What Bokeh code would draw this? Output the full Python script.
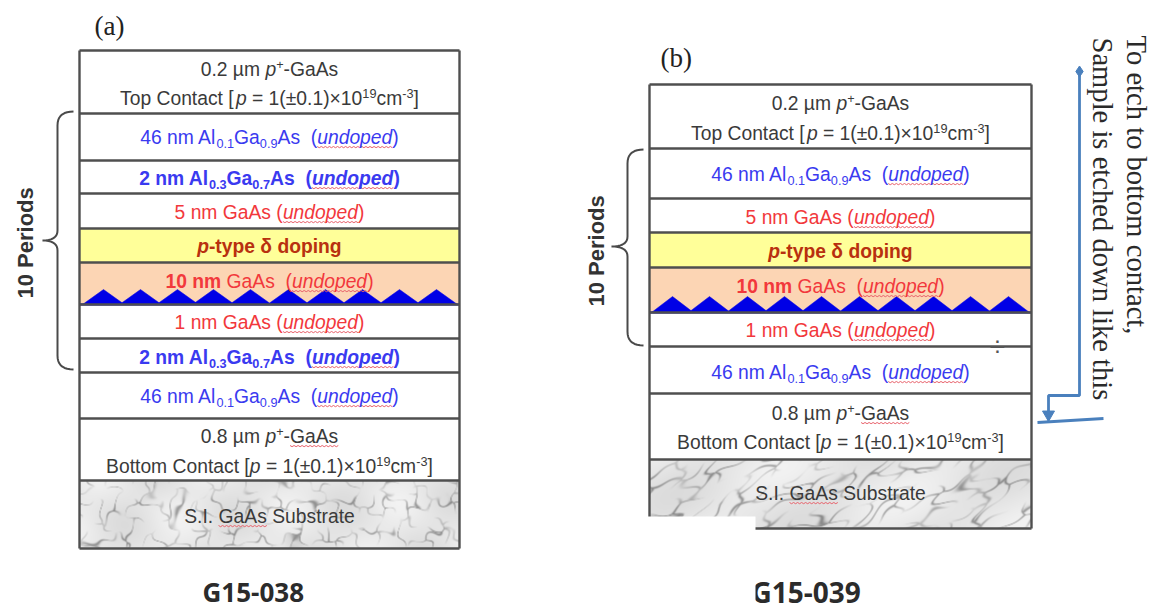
import numpy as np
from bokeh.plotting import figure
from bokeh.models import Range1d, ColumnDataSource
from bokeh.embed import file_html
from bokeh.resources import INLINE
from bokeh.core.properties import value

BLACK = "#3a3a3a"; BLUE = "#3a3af0"; RED = "#f2383c"; DRED = "#b8300f"
YELLOW = "#ffff99"; PEACH = "#fcd5b4"; ARROW = "#4a80bd"

# --- stack (a) -------------------------------------------------
a_left, a_right = 79, 459
a_edges = [50, 113, 160, 193, 228, 262, 304, 338, 372, 418, 480, 548]
a_fills = ["white", "white", "white", "white", YELLOW, PEACH, "white", "white", "white", "white", None]
a_peaks = [103, 140, 177, 213, 250, 288, 325, 362, 399, 436]
a_base, a_peak_top = 304, 289
a_baselines = [75, 104, 143, 184, 218, 252, 287, 328, 363, 402, 442, 472, 522]
# --- stack (b) -------------------------------------------------
b_left, b_right = 649, 1031
b_edges = [84, 148, 198, 232, 267, 312, 346, 393, 459, 528]
b_fills = ["white", "white", "white", YELLOW, PEACH, "white", "white", "white", None]
b_peaks = [672, 709, 747, 784, 821, 859, 896, 933, 970, 1008]
b_base, b_peak_top = 312, 296
b_baselines = [109, 139, 180, 223, 257, 292, 336, 378, 419, 448, 499]

def top_l1(): return [("0.2 µm ", "r"), ("p", "i"), ("+", "sup"), ("-GaAs", "r")]
def top_l2(): return [("Top Contact [", "r"), ("p", "i"), (" = 1(±0.1)×10", "r"), ("19", "sup"), ("cm", "r"), ("-3", "sup"), ("]", "r")]
def bot_l1(): return [("0.8 µm ", "r"), ("p", "i"), ("+", "sup"), ("-", "r"), ("GaAs", "ru")]
def bot_l2(): return [("Bottom Contact [", "r"), ("p", "i"), (" = 1(±0.1)×10", "r"), ("19", "sup"), ("cm", "r"), ("-3", "sup"), ("]", "r")]
def al46(): return [("46 nm Al", "r"), ("0.1", "sub"), ("Ga", "r"), ("0.9", "sub"), ("As", "r"), ("  (", "r"), ("undoped", "iu"), (")", "r")]
def al2(): return [("2 nm Al", "b"), ("0.3", "subb"), ("Ga", "b"), ("0.7", "subb"), ("As", "b"), ("  (", "b"), ("undoped", "biu"), (")", "b")]
def g5(): return [("5 nm GaAs (", "r"), ("undoped", "iu"), (")", "r")]
def g1(): return [("1 nm GaAs (", "r"), ("undoped", "iu"), (")", "r")]
def g10(): return [("10 nm", "b"), (" GaAs", "r"), ("  (", "r"), ("undoped", "iu"), (")", "r")]
def delta(): return [("p", "bi"), ("-type δ doping", "b")]
def subs(): return [("S.I. ", "r"), ("GaAs", "ru"), (" Substrate", "r")]

a_lines = [top_l1(), top_l2(), al46(), al2(), g5(), delta(), g10(), g1(), al2(), al46(), bot_l1(), bot_l2(), subs()]
a_colors = [BLACK, BLACK, BLUE, BLUE, RED, DRED, RED, RED, BLUE, BLUE, BLACK, BLACK, BLACK]
b_lines = [top_l1(), top_l2(), al46(), g5(), delta(), g10(), g1(), al46(), bot_l1(), bot_l2(), subs()]
b_colors = [BLACK, BLACK, BLUE, RED, DRED, RED, RED, BLUE, BLACK, BLACK, BLACK]

REG = {" ":278,".":278,",":278,"-":333,"(":333,")":333,"[":278,"]":278,"=":584,"±":549,"×":584,"µ":576,"+":584,
       "a":556,"b":556,"c":500,"d":556,"e":556,"f":278,"g":556,"h":556,"i":222,"j":222,"k":500,"l":222,"m":833,
       "n":556,"o":556,"p":556,"q":556,"r":333,"s":500,"t":278,"u":556,"v":500,"w":722,"x":500,"y":500,"z":500,
       "A":667,"B":667,"C":722,"G":778,"I":278,"S":667,"T":611,"δ":494}
BOLD = dict(REG); BOLD.update({"b":611,"c":556,"d":611,"f":333,"g":611,"h":611,"i":278,"l":278,"m":889,"n":611,"o":611,
       "p":611,"r":389,"s":556,"t":333,"u":611,"y":556,"A":722,"δ":611})

FS = 19.3
SHIFT = 0.32   # bokeh's svg text sits this many ems under the requested baseline

def layout(lines, colors, baselines, cx, src, squig):
    for runs, col, base in zip(lines, colors, baselines):
        items = []
        for txt, st in runs:
            bold = st.startswith("b") or st == "subb"
            small = st in ("sub", "sup", "subb")
            size = FS * (0.66 if small else 1.0)
            w = sum((BOLD if bold else REG).get(c, 556) for c in txt) / 1000 * size
            items.append((txt, st, bold, size, w))
        x = cx - sum(i[4] for i in items) / 2
        for txt, st, bold, size, w in items:
            dy = 4 if st in ("sub", "subb") else (-7 if st == "sup" else 0)
            italic = "i" in st and st not in ("sub", "subb", "sup")
            fs = ("bold italic" if bold and italic else "bold" if bold else "italic" if italic else "normal")
            tbl = BOLD if bold else REG
            lead = len(txt) - len(txt.lstrip(" "))
            src["x"].append(x + lead * tbl[" "] / 1000 * size)
            src["y"].append(base + dy - SHIFT * size)
            src["t"].append(txt.strip(" "))
            src["c"].append(col); src["f"].append(fs); src["s"].append(f"{size:.1f}px")
            if st.endswith("u"):
                n = max(2, int(w / 2))
                xs = np.linspace(x, x + w, n + 1)
                ys = base + 3 + np.where(np.arange(n + 1) % 2 == 0, 0, 1.2)
                squig["x"].append(list(xs)); squig["y"].append(list(ys))
            x += w

def brace(xr, xs, xt, top, mid, bot):
    def q(p0, p1, p2, n=10):
        t = np.linspace(0, 1, n)
        return ((1-t)**2*p0[0] + 2*t*(1-t)*p1[0] + t**2*p2[0], (1-t)**2*p0[1] + 2*t*(1-t)*p1[1] + t**2*p2[1])
    parts = [q((xr, top), (xs, top), (xs, top + 14)),
             q((xs, mid - 10), (xs, mid), (xt, mid)),
             q((xt, mid), (xs, mid), (xs, mid + 10)),
             q((xs, bot - 14), (xs, bot), (xr, bot))]
    return np.concatenate([c[0] for c in parts]), np.concatenate([c[1] for c in parts])

def marble(w, h, pitch, stretch, ang, phase):
    # decorative cracked-stone texture of the substrate layer (no chart data)
    yy, xx = np.mgrid[0:h, 0:w].astype(float)
    u = (xx * np.cos(ang) + yy * np.sin(ang)) * stretch
    v = -xx * np.sin(ang) + yy * np.cos(ang)
    u0, v0 = u.copy(), v.copy()
    u = u + 5 * np.sin(v0 / 7 + phase) + 2.5 * np.sin(v0 / 2.7)
    v = v + 5 * np.sin(u0 / 9 - phase) + 2.5 * np.sin(u0 / 3.1)
    gi = np.arange(-3, int(max(w, h) * 1.6 / pitch) + 3)
    gj = np.arange(-int(max(w, h) * 1.2 / pitch) - 3, int(max(w, h) * 1.2 / pitch) + 3)
    I, J = np.meshgrid(gi, gj)
    fx = np.sin(I * 12.9898 + J * 78.233 + phase) * 43758.5453
    fy = np.sin(I * 39.346 + J * 11.135 + phase) * 24634.6345
    px = (I + fx - np.floor(fx)) * pitch
    py = (J + fy - np.floor(fy)) * pitch
    px, py = px.ravel(), py.ravel()
    d = np.sqrt((u[..., None] - px) ** 2 + (v[..., None] - py) ** 2)
    d.sort(axis=-1)
    edge = d[..., 1] - d[..., 0]
    mod = np.clip(0.45 + 0.9 * np.sin(u0 / 9 + phase) * np.sin(v0 / 6 + 2 * phase), 0, 1)
    vein = np.exp(-(edge / 1.4) ** 2) * mod
    blot = np.sin(u0 / 31 + v0 / 17 + phase) + 0.6 * np.sin(u0 / 11 - v0 / 23)
    g = 231 + 7 * blot - 85 * vein
    g = np.clip(g, 100, 250).astype(np.uint32)
    return (255 << 24) | (g << 16) | (g << 8) | g

p = figure(width=1152, height=609, output_backend="svg", toolbar_location=None,
           x_range=Range1d(0, 1152), y_range=Range1d(609, 0), min_border=0, outline_line_color=None)
p.axis.visible = False
p.grid.visible = False
p.background_fill_color = "white"
p.border_fill_color = "white"

LINE = "#4f4f4f"
for left, right, edges, fills, peaks, base, ptop, tex in [
        (a_left, a_right, a_edges, a_fills, a_peaks, a_base, a_peak_top, (20, 1.0, -0.6, 0.7)),
        (b_left, b_right, b_edges, b_fills, b_peaks, b_base, b_peak_top, (15, 0.45, -0.5, 2.1))]:
    tops = edges[:-1]; bots = edges[1:]
    colors = [c if c else "white" for c in fills]
    p.quad(left=left, right=right, top=tops, bottom=bots, fill_color=colors, line_color=None)
    w, h = right - left, edges[-1] - edges[-2]
    p.image_rgba(image=[marble(w, h, *tex)], x=left, y=edges[-2], dw=w, dh=h)
    half = 21
    p.patches(xs=[[c - half, c, c + half] for c in peaks],
              ys=[[base, ptop, base] for c in peaks], fill_color="#0000e6", line_color="#0000e6", line_width=0.5)
    p.segment(x0=left, x1=right, y0=base, y1=base, line_color="#0000e6", line_width=2)
    p.segment(x0=[left] * len(edges), x1=[right] * len(edges), y0=edges, y1=edges, line_color=LINE, line_width=2.4)
    p.segment(x0=[left, right], x1=[left, right], y0=edges[0], y1=edges[-1], line_color=LINE, line_width=2.4)

src = dict(x=[], y=[], t=[], c=[], f=[], s=[])
squig = dict(x=[], y=[])
layout(a_lines, a_colors, a_baselines, 269, src, squig)
layout(b_lines, b_colors, b_baselines, 840, src, squig)
p.multi_line(xs=squig["x"], ys=squig["y"], line_color="#e8606a", line_width=1)
p.text(x="x", y="y", text="t", text_color="c", text_font_style="f", text_font_size="s",
       text_font=value("Liberation Sans"), text_baseline="alphabetic", text_align="left",
       source=ColumnDataSource(src))

for args in [(73, 57, 42, 111, 240, 369), (643, 627, 611, 149, 246, 345)]:
    bx, by = brace(*args)
    p.line(bx, by, line_color="#4a4a4a", line_width=2)

p.text(x=[25, 596], y=[298, 306], text=["10 Periods", "10 Periods"], angle=np.pi/2,
       text_font=value("Liberation Sans"), text_font_style="bold", text_font_size="22px", text_color="#333333",
       text_baseline="alphabetic")
p.text(x=[94, 660], y=[25, 57], text=["(a)", "(b)"], text_font=value("Liberation Serif"),
       text_font_size="27px", text_color="#222222", text_baseline="alphabetic")

p.text(x=[1136, 1102], y=[35, 37], text=["To etch to bottom contact,", "Sample is etched down like this"],
       angle=-np.pi/2, text_font=value("Liberation Serif"), text_font_size="28.6px", text_color="#2a2a2a",
       text_baseline="alphabetic")
arrow_x = [1079, 1079, 1048, 1048]; arrow_y = [70, 395, 395, 420]
p.line(arrow_x, arrow_y, line_color=ARROW, line_width=2.8)
p.scatter(x=[1079], y=[71], marker="diamond", size=11, fill_color=ARROW, line_color=ARROW)
p.scatter(x=[1048], y=[414], marker="inverted_triangle", size=12, fill_color=ARROW, line_color=ARROW)
p.line([1037, 1103], [422, 418], line_color=ARROW, line_width=3)
p.text(x=[997], y=[346], text=["÷"], text_font=value("Liberation Sans"), text_font_size="28px",
       text_color="#555555", text_align="center", text_baseline="alphabetic")

names = ColumnDataSource(dict(x=[202, 751], y=[591, 591], t=["G15-038", "G15-039"], s=["26px", "28px"]))
p.text(x="x", y="y", text="t", text_font_size="s", source=names, text_font=value("Open Sans"),
       text_font_style="bold", text_color="#2b2b2b", text_baseline="alphabetic")
p.quad(left=[580, 735], right=[755, 755], top=[516, 575], bottom=[531, 609], fill_color="white", line_color=None)

open("out.html", "w").write(file_html(p, INLINE))
